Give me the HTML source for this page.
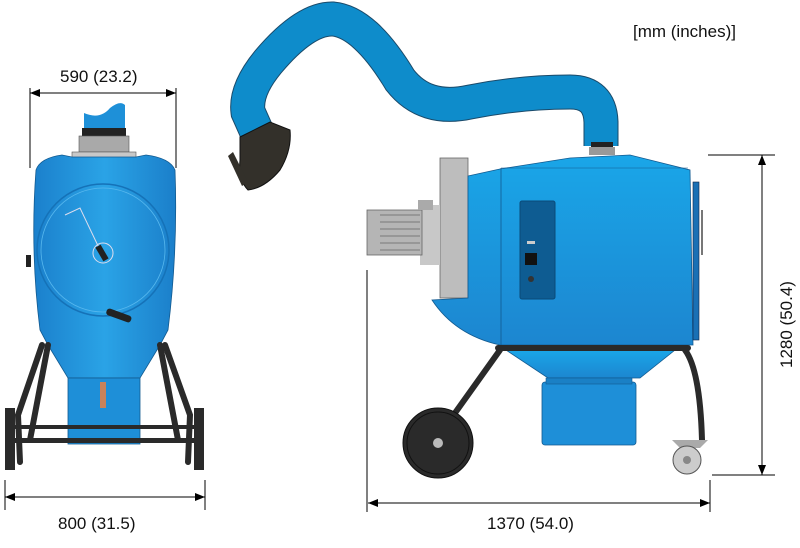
<!DOCTYPE html>
<html><head><style>html,body{margin:0;padding:0;background:#fff}svg{display:block}</style></head>
<body>
<svg width="800" height="548" viewBox="0 0 800 548" xmlns="http://www.w3.org/2000/svg" font-family="Liberation Sans, sans-serif">
<defs>
<linearGradient id="bl" x1="0" y1="0" x2="0" y2="1"><stop offset="0" stop-color="#1aa6e8"/><stop offset="1" stop-color="#1c86d0"/></linearGradient>
<linearGradient id="bh" x1="0" y1="0" x2="1" y2="0"><stop offset="0" stop-color="#1b80cc"/><stop offset="0.5" stop-color="#2aa3e6"/><stop offset="1" stop-color="#1b7fca"/></linearGradient>
<marker id="a" markerWidth="10" markerHeight="8" refX="10" refY="4" orient="auto"><path d="M0,0 L10,4 L0,8 z" fill="#000"/></marker>
<marker id="b" markerWidth="10" markerHeight="8" refX="0" refY="4" orient="auto"><path d="M10,0 L0,4 L10,8 z" fill="#000"/></marker>
</defs>
<g font-size="17" fill="#111">
<text x="633" y="37">[mm (inches)]</text>
<text x="60" y="82">590 (23.2)</text>
<text x="58" y="529">800 (31.5)</text>
<text x="487" y="529">1370 (54.0)</text>
<text transform="translate(792,368) rotate(-90)">1280 (50.4)</text>
</g>
<g stroke="#000" stroke-width="1" fill="none">
<line x1="30" y1="93" x2="176" y2="93" marker-start="url(#b)" marker-end="url(#a)"/>
<line x1="30" y1="88" x2="30" y2="168"/><line x1="176" y1="88" x2="176" y2="168"/>
<line x1="5" y1="497" x2="205" y2="497" marker-start="url(#b)" marker-end="url(#a)"/>
<line x1="5" y1="480" x2="5" y2="510"/><line x1="205" y1="480" x2="205" y2="510"/>
<line x1="368" y1="503" x2="710" y2="503" marker-start="url(#b)" marker-end="url(#a)"/>
<line x1="367" y1="270" x2="367" y2="512"/><line x1="710" y1="480" x2="710" y2="512"/>
<line x1="762" y1="155" x2="762" y2="475" marker-start="url(#b)" marker-end="url(#a)"/>
<line x1="708" y1="155" x2="775" y2="155"/><line x1="712" y1="475" x2="775" y2="475"/>
</g>
<!-- front view -->
<path d="M84,113 Q100,120 110,108 Q120,100 125,105 L125,130 L84,130z" fill="#1e90d8"/>
<rect x="82" y="128" width="44" height="8" fill="#222"/>
<rect x="79" y="136" width="50" height="16" fill="#a9a9a9" stroke="#555" stroke-width="0.6"/>
<rect x="72" y="152" width="64" height="7" fill="#c8c8c8" stroke="#555" stroke-width="0.6"/>
<path d="M36,170 Q40,158 62,155 L72,157 L136,157 L146,155 Q170,158 175,170 Q178,250 168,330 L160,345 L140,378 L68,378 L48,345 L40,330 Q30,250 36,170z" fill="url(#bh)" stroke="#125a90" stroke-width="0.8"/>
<circle cx="103" cy="250" r="66" fill="none" stroke="#1572b8" stroke-width="1.5"/>
<circle cx="103" cy="250" r="62" fill="none" stroke="#57b8ee" stroke-width="0.8"/>
<path d="M65,215 L80,208 L100,250" stroke="#dde" fill="none" stroke-width="1"/>
<circle cx="103" cy="253" r="10" fill="none" stroke="#dde"/>
<rect x="99" y="245" width="6" height="16" fill="#222" transform="rotate(-30 102 253)"/>
<rect x="106" y="312" width="26" height="7" rx="3" fill="#222" transform="rotate(20 119 315)"/>
<rect x="26" y="255" width="5" height="12" fill="#222"/>
<rect x="68" y="378" width="72" height="66" fill="#1e8fd8" stroke="#125a90" stroke-width="0.8"/>
<rect x="100" y="382" width="6" height="26" fill="#c9825a"/>
<g stroke="#2a2a2a" stroke-width="6" fill="none" stroke-linecap="round">
<path d="M42,345 L18,415 L20,462"/><path d="M48,345 L30,440"/>
<path d="M165,345 L190,415 L188,462"/><path d="M160,345 L178,440"/>
</g>
<g fill="#2a2a2a">
<rect x="10" y="425" width="190" height="4"/><rect x="12" y="438" width="185" height="5"/>
<rect x="5" y="408" width="10" height="62"/><rect x="194" y="408" width="10" height="62"/>
</g>
<!-- hose -->
<path d="M601,146 L601,122 Q600,92 570,92 Q520,92 470,102 Q425,112 400,80 Q365,22 333,19 Q305,18 268,62 Q245,90 248,112 L256,130" fill="none" stroke="#1a4a6a" stroke-width="35"/>
<path d="M601,146 L601,122 Q600,92 570,92 Q520,92 470,102 Q425,112 400,80 Q365,22 333,19 Q305,18 268,62 Q245,90 248,112 L256,130" fill="none" stroke="#0e8ccb" stroke-width="33"/>
<path d="M240,137 Q258,128 270,122 L290,130 Q292,150 280,170 Q265,188 248,190 Q238,180 240,160 Z" fill="#33302a" stroke="#111"/>
<path d="M228,156 L233,152 L248,182 L242,186 Z" fill="#33302a"/>
<rect x="591" y="142" width="22" height="5" fill="#222"/>
<rect x="589" y="147" width="26" height="8" fill="#999"/>
<!-- side view -->
<rect x="440" y="158" width="28" height="140" fill="#bdbdbd" stroke="#666" stroke-width="0.8"/>
<rect x="420" y="205" width="20" height="60" fill="#c8c8c8"/>
<rect x="367" y="210" width="55" height="45" fill="#b5b5b5" stroke="#666" stroke-width="0.8"/>
<g stroke="#666" stroke-width="0.7">
<line x1="380" y1="215" x2="420" y2="215"/><line x1="380" y1="222" x2="420" y2="222"/><line x1="380" y1="229" x2="420" y2="229"/><line x1="380" y1="236" x2="420" y2="236"/><line x1="380" y1="243" x2="420" y2="243"/><line x1="380" y1="250" x2="420" y2="250"/></g>
<rect x="418" y="200" width="15" height="10" fill="#aaa"/>
<path d="M468,176 L500,169 L570,158 L630,155 L690,170 L693,345 L500,345 Q455,335 432,300 L468,298z" fill="url(#bl)" stroke="#125a90" stroke-width="0.8"/>
<line x1="501" y1="168" x2="501" y2="345" stroke="#125a90" stroke-width="0.8"/>
<line x1="501" y1="168" x2="688" y2="168" stroke="#125a90" stroke-width="0.6"/>
<rect x="693" y="182" width="6" height="158" fill="#1a70b5" stroke="#124" stroke-width="0.6"/>
<line x1="702" y1="210" x2="702" y2="255" stroke="#777" stroke-width="2"/>
<rect x="520" y="201" width="35" height="98" rx="2" fill="#0e5c92" stroke="#0a4a78"/>
<rect x="527" y="241" width="8" height="3" fill="#ccc"/>
<rect x="525" y="253" width="12" height="12" fill="#111"/>
<circle cx="531" cy="279" r="3" fill="#333"/>
<path d="M506,350 L675,350 L640,378 L548,378z" fill="url(#bl)" stroke="#125a90" stroke-width="0.8"/>
<rect x="542" y="382" width="94" height="63" rx="3" fill="#1e8fd8" stroke="#125a90" stroke-width="0.8"/>
<rect x="546" y="378" width="86" height="6" fill="#1a80c5" stroke="#125a90" stroke-width="0.6"/>
<g stroke="#2a2a2a" stroke-width="6" fill="none" stroke-linecap="round">
<line x1="498" y1="348" x2="688" y2="348"/>
<path d="M500,350 L450,420"/>
<path d="M685,350 Q700,370 702,440"/>
</g>
<circle cx="438" cy="443" r="35" fill="#2a2a2a" stroke="#111"/>
<circle cx="438" cy="443" r="31" fill="none" stroke="#111"/>
<circle cx="438" cy="443" r="5" fill="#bbb"/>
<path d="M672,440 L708,440 L700,448 L680,448z" fill="#aaa"/>
<circle cx="687" cy="460" r="14" fill="#ccc" stroke="#555"/>
<circle cx="687" cy="460" r="4" fill="#888"/>
</svg>
</body></html>
